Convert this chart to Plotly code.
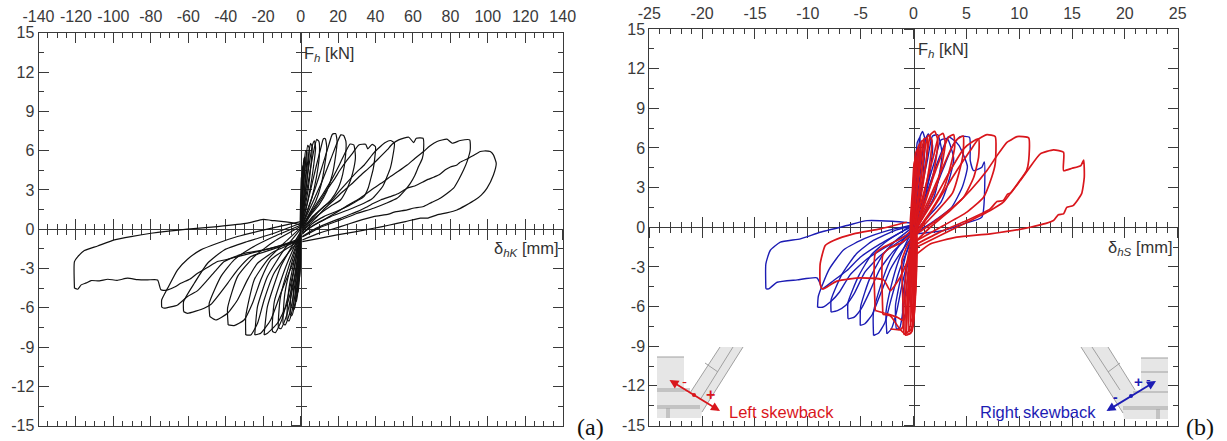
import plotly.graph_objects as go

# ---------- tick labels ----------
KX_TICKS = [-140,-120,-100,-80,-60,-40,-20,0,20,40,60,80,100,120,140]
SX_TICKS = [-25,-20,-15,-10,-5,0,5,10,15,20,25]
Y_TICKS = [-15,-12,-9,-6,-3,0,3,6,9,12,15]

# ---------- panel (a): delta_hK [mm] vs F_h [kN], black curves ----------
K_pos_1 = [(0.9,-0.95),(10,-0.7),(19.5,-0.44),(29,-0.2),(39,0.07),(47,0.3),(56,0.58),(64,0.85),(68,0.85),(72.9,1.09),(78,1.25),(83.5,1.47),(88,1.8),(93.3,2.24),(96.5,2.6),(99.5,3.12),(103,4.14),(104.5,5.03),(103,5.67),(101.3,5.93),(98,5.97),(96,5.93),(92,5.6),(89.7,5.42),(85,5.1),(83.5,4.9),(80,4.75),(77.3,4.53),(74,4.15),(71.1,3.97),(68,3.8),(65.7,3.63),(61,3.3),(56.9,3.13),(52,2.7),(48,2.49),(43,2.25),(39,1.98),(34,1.6),(30.2,1.34),(25,1.05),(21.3,0.83),(17,0.6),(12.4,0.33),(6,-0.1),(0.9,-0.56)]
K_pos_2 = [(0.9,-0.82),(10,-0.3),(21.3,0.2),(30,0.6),(39,0.96),(47,1.15),(50,1.3),(56.9,1.47),(60,1.6),(65.7,1.73),(70,2.05),(74.6,2.36),(78,2.7),(81.7,3.13),(84.5,3.8),(87.1,4.53),(89,5.2),(90.6,6.05),(90.3,6.82),(85.3,6.77),(81,6.56),(78.2,6.87),(72.9,6.69),(69,6.35),(65.7,5.93),(61,5.4),(56.9,4.9),(52,4.4),(48,4.02),(43,3.5),(39,3.13),(34,2.6),(30.2,2.23),(25,1.8),(21.3,1.47),(17,1.1),(12.4,0.71),(6,0.2),(0.9,-0.31)]
K_pos_3 = [(0.9,-0.6),(10,0.1),(21.3,0.71),(30,1.2),(39,1.6),(46,2.0),(51.5,2.36),(55,2.85),(58.6,3.5),(61,4.1),(63,4.78),(65,5.4),(65.7,6.05),(65.4,6.94),(61.8,6.94),(60.4,6.61),(57.8,7.02),(52.4,6.82),(49,6.5),(46.2,6.05),(41,5.3),(37.3,4.78),(32,4.1),(26.7,3.38),(22,2.8),(17.8,2.23),(13,1.6),(8.9,0.96),(0.9,-0.18)]
K_pos_4 = [(0.9,-0.3),(8,0.4),(16,0.96),(25,1.45),(33.8,1.98),(38,2.3),(40.9,2.74),(44,3.3),(46.2,4.02),(48,4.7),(48.9,5.29),(50.1,6.56),(48,6.77),(45,6.6),(43.5,6.43),(41,6.1),(39,5.8),(34,4.9),(30.2,4.4),(25,3.6),(21.3,3.0),(16,2.1),(12.4,1.73),(6,0.8),(0.9,0.07)]
K_pos_5 = [(0.9,-0.4),(6,0.4),(12.4,0.96),(19,1.35),(24.9,1.73),(30,2.15),(33.8,2.49),(36,3.1),(37.3,3.76),(38.8,4.6),(39.5,5.29),(40,6.3),(38.2,6.48),(35.9,6.13),(34.7,6.48),(31.1,6.43),(28,5.85),(24.9,5.29),(21,4.5),(17.8,3.76),(14,3.0),(10.7,2.23),(6,1.3),(0.9,0.2)]
K_pos_6 = [(0.9,-0.2),(5,0.55),(10.7,1.22),(16,1.75),(21.3,2.23),(24.5,3.0),(26.7,3.76),(28.5,4.7),(29.3,5.54),(28.4,6.43),(26.5,6.5),(24,5.9),(21,5.0),(17,3.9),(12,2.7),(6,1.4),(0.9,0.25)]
K_pos_7 = [(0.9,-0.1),(6,0.9),(11,1.55),(16,2.2),(20,3.1),(22.5,4.2),(24,5.6),(24.2,6.7),(23,7.15),(21.5,7.2),(19.5,6.6),(16,5.3),(11,3.5),(6,1.9),(0.9,0.3)]
K_pos_8 = [(0.9,0.0),(5,1.0),(10,1.9),(14,2.9),(17,4.2),(18.6,5.5),(19.5,6.7),(18.7,7.3),(17,7.25),(15,6.4),(12,5.0),(8,3.2),(4,1.6),(0.9,0.35)]
K_pos_9 = [(0.9,0.1),(4,1.0),(8,2.1),(11,3.4),(13,5.0),(14,6.2),(13.2,6.9),(12.2,6.9),(11,6.3),(8.5,4.9),(5,2.8),(0.9,0.5)]
K_pos_10 = [(0.7,0.2),(3,1.1),(6,2.4),(8.5,4.0),(10,5.6),(9.8,6.7),(8.6,6.85),(7.5,6.3),(5,4.4),(2.5,2.2),(0.7,0.6)]
K_pos_11 = [(0.5,0.3),(2.5,1.3),(5,3.0),(7,4.9),(8,6.2),(7.4,6.75),(6.3,6.4),(4.2,4.6),(2,2.4),(0.5,0.7)]
K_pos_12 = [(0.4,0.3),(2,1.4),(4,3.0),(5.6,5.0),(6.2,6.3),(5.3,6.55),(4,5.4),(2.2,3.2),(0.4,0.8)]
K_pos_13 = [(0.3,0.2),(1.5,1.4),(3,3.2),(4.3,5.2),(4.6,6.2),(3.8,6.4),(2.6,5.0),(1.2,2.8),(0.3,0.7)]
K_pos_14 = [(0.2,0.1),(1,1.3),(2.2,3.3),(3.2,5.0),(3.4,5.9),(2.7,6.0),(1.8,4.6),(0.8,2.6),(0.2,0.6)]
K_pos_15 = [(0.1,0.0),(0.7,1.4),(1.5,3.2),(2.3,4.8),(2.4,5.5),(1.8,5.4),(1.1,4.0),(0.5,2.2),(0.1,0.5)]
K_pos_16 = [(0.0,-0.2),(0.4,1.4),(0.9,3.0),(1.4,4.4),(1.5,4.9),(1.0,4.7),(0.5,3.2),(0.0,0.4)]
K_pos_17 = [(-0.3,-0.5),(0.1,1.2),(0.4,2.6),(0.8,3.8),(0.9,4.3),(0.4,3.9),(0.0,2.2),(-0.3,0.0)]

K_neg_1 = [(-120.8,-4.5),(-120.8,-2.47),(-119,-2.09),(-115.5,-1.63),(-108.4,-1.28),(-99.5,-0.82),(-90.6,-0.56),(-79.9,-0.31),(-60.4,0.0),(-44.4,0.2),(-28.4,0.46),(-20,0.75),(-15.9,0.68),(-5,0.5),(0,0.3)]
K_neg_1b = [(-120.8,-4.5),(-119,-4.58),(-117.2,-4.25),(-114.5,-4.1),(-111.9,-3.92),(-107.5,-3.95),(-103,-3.82),(-98,-3.9),(-92.4,-3.74),(-87,-3.85),(-81.7,-3.87),(-76.4,-3.87),(-74.6,-4.63),(-71,-4.63),(-67,-4.4),(-64,-4.13),(-59,-3.8),(-55,-3.36),(-50,-2.95),(-44.4,-2.47),(-39,-2.3),(-33.7,-2.09),(-23,-1.71),(-12.4,-1.33),(0,-0.69)]
K_neg_2 = [(-74.2,-5.96),(-74.2,-5.4),(-71,-4.5),(-65.7,-3.1),(-60.4,-2.29),(-53.3,-1.58),(-44.4,-1.07),(-33.7,-0.56),(-19.5,-0.05),(0,0.58)]
K_neg_2b = [(-74.2,-5.96),(-72.8,-6.03),(-65.7,-5.78),(-60.4,-5.14),(-55,-4.69),(-49.7,-3.87),(-45,-3.1),(-40.8,-2.47),(-30.2,-1.84),(-19.5,-1.58),(0,-0.82)]
K_neg_3 = [(-62.5,-6.29),(-62.5,-5.52),(-56.8,-4.13),(-49.7,-2.6),(-40.8,-1.58),(-28.4,-0.94),(-14.2,-0.31),(0,0.45)]
K_neg_3b = [(-62.5,-6.29),(-60.4,-6.42),(-51.5,-6.03),(-48,-5.75),(-44.4,-5.14),(-39,-4.13),(-33.7,-3.1),(-26.6,-2.09),(-16,-1.58),(0,-0.82)]
K_neg_4 = [(-48.5,-6.67),(-48.8,-5.65),(-42.6,-3.62),(-35.5,-2.34),(-26.6,-1.45),(-14.2,-0.56),(0,0.3)]
K_neg_4b = [(-48.5,-6.67),(-45.3,-6.93),(-39,-6.42),(-33.7,-5.4),(-28.4,-3.87),(-23,-2.6),(-14.2,-1.71),(0,-0.82)]
K_neg_5 = [(-38.7,-7.31),(-39,-6.03),(-33.7,-3.62),(-24.8,-2.09),(-14.2,-0.94),(0,0.2)]
K_neg_5b = [(-38.7,-7.31),(-35.5,-7.36),(-30.2,-6.93),(-25.7,-5.65),(-21.3,-3.87),(-16,-2.34),(-7.1,-1.45),(0,-0.82)]
K_neg_6 = [(-29.3,-8.07),(-29.3,-6.67),(-24.8,-3.87),(-17.7,-2.34),(-8.9,-1.07),(0,0.1)]
K_neg_6b = [(-29.3,-8.07),(-26.6,-8.07),(-23,-7.18),(-19.5,-5.4),(-14.2,-3.36),(-5.3,-1.58),(0,-0.82)]
K_neg_7 = [(-24.5,-8.07),(-23,-5.9),(-17.7,-3.62),(-8.9,-1.58),(0,0.0)]
K_neg_7b = [(-24.5,-8.07),(-21.3,-7.94),(-16,-6.93),(-10.6,-4.89),(-3.5,-2.34),(0,-0.82)]
K_neg_8 = [(-19.5,-8.07),(-17.7,-5.9),(-10.6,-2.85),(0,-0.2)]
K_neg_8b = [(-19.5,-8.07),(-17.7,-7.94),(-12.4,-7.18),(-7.1,-5.65),(-2.6,-3.36),(0,-0.82)]
K_neg_9 = [(-15,-7.8),(-14,-5.5),(-8,-2.9),(0,-0.3),(-5,-4.0),(-10,-6.9),(-13.5,-7.9),(-15,-7.8)]
K_neg_10 = [(-11.8,-7.5),(-10.8,-5.2),(-6,-2.7),(0,-0.4),(-3.5,-3.9),(-7.5,-6.6),(-10.5,-7.6),(-11.8,-7.5)]
K_neg_11 = [(-9.3,-7.2),(-8.4,-4.9),(-4.6,-2.5),(0,-0.4),(-2.6,-3.8),(-5.6,-6.3),(-8.2,-7.3),(-9.3,-7.2)]
K_neg_12 = [(-7.2,-6.9),(-6.4,-4.7),(-3.4,-2.4),(0,-0.4),(-1.9,-3.8),(-4.2,-6.0),(-6.2,-7.0),(-7.2,-6.9)]
K_neg_13 = [(-5.5,-6.5),(-4.9,-4.4),(-2.5,-2.3),(0,-0.4),(-1.4,-3.6),(-3.1,-5.7),(-4.7,-6.6),(-5.5,-6.5)]
K_neg_14 = [(-4.0,-6.0),(-3.5,-4.1),(-1.7,-2.2),(0,-0.4),(-1.0,-3.4),(-2.2,-5.2),(-3.4,-6.1),(-4.0,-6.0)]
K_neg_15 = [(-2.8,-5.5),(-2.4,-3.8),(-1.1,-2.0),(0,-0.4),(-0.6,-3.2),(-1.5,-4.8),(-2.3,-5.5),(-2.8,-5.5)]
K_neg_16 = [(-1.8,-4.8),(-1.5,-3.4),(-0.6,-1.8),(0,-0.4),(-0.3,-2.9),(-0.9,-4.2),(-1.4,-4.8),(-1.8,-4.8)]
K_neg_17 = [(-1.0,-4.0),(-0.8,-2.8),(-0.2,-1.5),(0.1,-0.4),(0.0,-2.4),(-0.4,-3.5),(-1.0,-4.0)]

# ---------- panel (b): delta_hS [mm] vs F_h [kN] ----------
B_neg_1 = [(-13.97,-4.66),(-13.97,-2.77),(-13.56,-1.76),(-12.6,-1.13),(-10.7,-0.88),(-8.83,-0.38),(-6.3,0.13),(-4.4,0.5),(-2.0,0.45),(0,0.3)]
B_neg_1b = [(-13.97,-4.66),(-13.7,-4.66),(-12.9,-4.16),(-11,-3.98),(-9.14,-3.83),(-8.83,-4.28),(-8.67,-4.66),(-7.56,-4.03),(-6.3,-3.27),(-5.04,-2.27),(-3.15,-1.26),(-0.94,-0.25),(0,0.25)]
B_neg_2 = [(-9.08,-6.05),(-9.0,-5.2),(-8.0,-3.2),(-6.6,-1.7),(-4.6,-0.85),(-2.2,-0.2),(0,0.2)]
B_neg_2b = [(-9.08,-6.05),(-8.6,-6.05),(-7.8,-5.6),(-7.0,-4.9),(-6.0,-3.6),(-4.4,-2.4),(-2.0,-1.2),(0,-0.3)]
B_neg_3 = [(-7.8,-6.42),(-7.8,-5.5),(-6.8,-3.6),(-5.4,-2.0),(-3.8,-1.0),(-1.6,-0.2),(0,0.15)]
B_neg_3b = [(-7.8,-6.42),(-7.2,-6.3),(-6.4,-5.9),(-5.6,-5.0),(-4.6,-3.4),(-3.2,-2.2),(-1.4,-1.1),(0,-0.4)]
B_neg_4 = [(-6.2,-6.93),(-6.2,-5.7),(-5.2,-3.7),(-4.0,-2.1),(-2.6,-1.1),(-1.0,-0.3),(0,0.1)]
B_neg_4b = [(-6.2,-6.93),(-5.6,-6.8),(-4.9,-6.1),(-4.1,-4.8),(-3.2,-3.2),(-2.0,-1.9),(-0.8,-1.0),(0,-0.5)]
B_neg_5 = [(-5.04,-7.43),(-5.0,-6.0),(-4.2,-4.0),(-3.0,-2.2),(-1.8,-1.1),(0,0.05)]
B_neg_5b = [(-5.04,-7.43),(-4.6,-7.3),(-3.9,-6.6),(-3.1,-5.0),(-2.2,-3.2),(-1.2,-1.9),(0,-0.6)]
B_neg_6 = [(-3.78,-8.19),(-3.8,-6.5),(-3.1,-4.4),(-2.2,-2.5),(-1.2,-1.2),(0,0.0)]
B_neg_6b = [(-3.78,-8.19),(-3.3,-8.0),(-2.7,-7.2),(-2.1,-5.4),(-1.3,-3.2),(-0.5,-1.6),(0,-0.7)]
B_neg_7 = [(-2.52,-8.06),(-2.6,-6.4),(-2.1,-4.4),(-1.4,-2.5),(-0.7,-1.2),(0,-0.1)]
B_neg_7b = [(-2.52,-8.06),(-2.1,-7.7),(-1.6,-6.4),(-1.1,-4.4),(-0.5,-2.4),(0,-0.8)]
B_neg_8 = [(-1.6,-7.7),(-1.7,-5.9),(-1.2,-3.8),(-0.7,-2.0),(0,-0.3),(-0.4,-3.0),(-0.9,-5.8),(-1.3,-7.6),(-1.6,-7.7)]
B_neg_9 = [(-1.0,-7.0),(-1.0,-5.2),(-0.6,-3.0),(-0.2,-1.4),(0.1,-0.4),(-0.1,-3.2),(-0.5,-5.9),(-1.0,-7.0)]

B_pos_1 = [(0.3,-0.5),(2.85,-0.25),(4.74,0.26),(6.47,0.76),(6.7,4.95),(6.47,4.54),(5.68,4.29),(5.37,5.04),(5.3,6.81),(4.42,6.86),(3.8,6.3),(2.8,4.4),(1.8,2.4),(0.3,-0.1)]
B_pos_2 = [(0.3,-0.4),(2.0,0.5),(3.6,1.5),(4.6,3.0),(5.1,4.6),(4.3,6.2),(3.8,6.6),(3.3,6.85),(2.7,5.8),(1.6,3.4),(0.3,0.2)]
B_pos_3 = [(0.2,-0.3),(1.4,0.8),(2.6,1.9),(3.3,3.4),(3.8,5.2),(3.2,6.7),(2.6,6.6),(2.0,5.0),(1.0,2.4),(0.2,0.2)]
B_pos_4 = [(0.2,-0.2),(1.0,0.9),(1.9,2.2),(2.4,3.8),(2.7,5.6),(2.3,7.0),(1.8,6.9),(1.3,5.0),(0.6,2.3),(0.2,0.2)]
B_pos_5 = [(0.1,-0.2),(0.7,1.1),(1.2,2.6),(1.6,4.4),(1.8,6.2),(1.4,7.05),(1.0,6.4),(0.6,3.8),(0.1,0.4)]
B_pos_6 = [(0.0,-0.2),(0.4,1.2),(0.8,3.0),(1.0,5.0),(1.1,6.6),(0.85,7.25),(0.6,6.8),(0.3,3.6),(0.0,0.4)]
B_pos_7 = [(0.0,-0.1),(0.2,1.4),(0.4,3.4),(0.6,5.4),(0.6,6.8),(0.35,6.4),(0.15,3.2),(0.0,0.5)]

R_neg_1 = [(-8.67,-4.66),(-8.83,-4.28),(-8.83,-2.77),(-8.35,-1.38),(-7.56,-1.0),(-5.67,-0.5),(-3.15,-0.12),(-0.63,0.38)]
R_neg_1b = [(-8.67,-4.66),(-8.5,-4.66),(-7.25,-4.08),(-6.0,-3.9),(-5,-3.83),(-2.83,-3.98),(-2.2,-4.79),(-1.26,-3.78),(-0.3,-2.0),(0,-0.8)]
R_neg_2 = [(-3.62,-6.3),(-3.62,-2.0),(-2.83,-1.5),(-0.94,-0.75),(0.1,0.0)]
R_neg_2b = [(-3.62,-6.3),(-2.52,-6.55),(-1.57,-6.8),(-0.94,-7.05),(-0.3,-4.5),(0,-0.8)]
R_neg_3 = [(-2.9,-6.6),(-2.9,-2.1),(-2.3,-1.6),(-1.0,-1.1),(0.1,-0.3)]
R_neg_3b = [(-2.9,-6.6),(-2.2,-6.7),(-1.3,-7.7),(-0.8,-8.06),(-0.5,-5.0),(0,-1.0)]
R_neg_4 = [(-2.2,-7.7),(-1.26,-7.75),(-1.0,-7.5),(-1.1,-3.5),(-1.1,-2.5),(-0.6,-1.4),(0.1,-0.5)]
R_neg_5 = [(-0.9,-8.1),(-0.85,-5.0),(-0.6,-2.6),(-0.2,-1.0),(0.1,-0.1),(-0.1,-4.2),(-0.4,-7.8),(-0.9,-8.1)]
R_neg_6 = [(-0.75,-8.15),(-0.7,-5.2),(-0.45,-2.8),(-0.1,-1.0),(0.1,-0.2),(0.0,-4.4),(-0.25,-8.0),(-0.75,-8.15)]
R_neg_7 = [(-0.6,-8.1),(-0.55,-5.0),(-0.3,-2.5),(0.0,-0.9),(0.15,-0.4),(0.1,-4.4),(-0.15,-7.9),(-0.6,-8.1)]
R_neg_8 = [(-0.45,-7.9),(-0.4,-4.8),(-0.2,-2.2),(0.05,-0.6),(0.2,-0.4),(0.2,-4.0),(-0.05,-7.5),(-0.45,-7.9)]
R_neg_9 = [(-0.3,-7.2),(-0.25,-4.3),(-0.1,-2.0),(0.1,-0.5),(0.25,-0.4),(0.25,-3.6),(0.05,-6.6),(-0.3,-7.2)]
R_neg_10 = [(-0.15,-6.2),(-0.1,-3.8),(0.0,-1.8),(0.2,-0.4),(0.3,-0.3),(0.3,-3.0),(0.1,-5.6),(-0.15,-6.2)]

R_pos_1 = [(0.32,-2.01),(1.58,-1.26),(4.1,-0.75),(7.26,-0.5),(11.05,0),(13.25,0.51),(13.7,0.95),(14.2,1.01),(14.5,1.5),(15.1,1.64),(15.9,2.52),(16.16,3.78),(16.1,5.09),(15.84,4.67),(15,4.46),(14.2,4.29),(14.2,5.67),(13.25,5.85),(12,5.55),(10.9,4.41),(10.1,3.53),(9.2,2.6),(8.9,2.5),(8.5,2.02),(7.9,1.95),(7.26,1.39),(5.05,0.51),(2.5,-0.37),(0.32,-1.26)]
R_pos_2 = [(0.32,-1.5),(2.85,-0.5),(5.37,0.5),(7.26,1.27),(8.5,1.9),(9.94,3.4),(10.7,4.29),(10.9,5.04),(10.9,6.76),(9.8,6.86),(9.2,6.6),(8.84,6.43),(7.9,5.42),(6.95,4.29),(5.37,2.78),(3.48,1.27),(1.58,0),(0.32,-1)]
R_pos_3 = [(0.32,-1.0),(2.85,0.13),(5.05,1.14),(6.63,2.27),(7.4,3.78),(7.73,4.79),(7.73,6.86),(6.95,7.01),(6.16,6.68),(5.37,5.8),(4.1,4.29),(2.53,2.27),(0.32,-0.5)]
R_pos_4 = [(0.32,-0.5),(2.53,0.76),(4.74,2.27),(5.7,3.78),(6.16,5.3),(6.16,6.68),(5.5,6.43),(4.74,5.93),(3.48,4.29),(1.9,2.02),(0.32,0)]
R_pos_5 = [(0.3,-0.4),(2.1,1.1),(3.7,2.6),(4.3,4.1),(4.7,5.6),(4.7,6.9),(4.2,6.7),(3.6,6.0),(2.6,4.2),(1.4,2.0),(0.3,0.1)]
R_pos_6 = [(0.3,-0.3),(1.7,1.3),(2.9,3.0),(3.5,4.6),(3.9,6.1),(3.8,7.0),(3.3,6.8),(2.7,5.6),(1.7,3.4),(0.3,0.2)]
R_pos_7 = [(0.2,-0.3),(1.3,1.5),(2.2,3.2),(2.7,4.8),(3.0,6.4),(2.8,7.1),(2.4,6.9),(1.9,5.4),(1.1,3.0),(0.2,0.3)]
R_pos_8 = [(0.2,-0.4),(1.0,1.6),(1.7,3.4),(2.1,5.0),(2.3,6.6),(2.0,7.25),(1.6,7.0),(1.2,5.0),(0.6,2.6),(0.2,0.3)]
R_pos_9 = [(0.1,-0.6),(0.8,1.6),(1.3,3.6),(1.6,5.2),(1.75,6.6),(1.4,6.95),(1.05,5.8),(0.7,3.6),(0.1,0.3)]
R_pos_10 = [(0.0,-0.7),(0.6,1.8),(1.0,3.8),(1.25,5.4),(1.3,6.7),(1.0,6.7),(0.7,5.0),(0.3,2.6),(0.0,0.2)]
R_pos_11 = [(-0.1,-0.8),(0.3,1.6),(0.7,3.8),(0.95,5.4),(1.0,6.6),(0.75,6.5),(0.45,4.4),(0.1,1.6),(-0.1,0.2)]
R_pos_12 = [(-0.2,-0.8),(0.1,1.6),(0.45,3.8),(0.65,5.2),(0.7,6.4),(0.45,6.1),(0.2,4.0),(-0.1,1.2),(-0.2,0.0)]
R_pos_13 = [(-0.25,-0.8),(-0.05,1.6),(0.2,3.6),(0.4,5.0),(0.45,6.0),(0.2,5.6),(0.0,3.4),(-0.2,0.8),(-0.25,-0.2)]
R_pos_14 = [(-0.3,-0.9),(-0.15,1.2),(0.05,3.0),(0.2,4.4),(0.25,5.3),(0.05,4.8),(-0.1,2.8),(-0.3,0.4),(-0.3,-0.4)]

BLACK_LOOPS = [K_pos_1,K_pos_2,K_pos_3,K_pos_4,K_pos_5,K_pos_6,K_pos_7,K_pos_8,K_pos_9,K_pos_10,K_pos_11,K_pos_12,K_pos_13,K_pos_14,K_pos_15,K_pos_16,K_pos_17,
               K_neg_1,K_neg_1b,K_neg_2,K_neg_2b,K_neg_3,K_neg_3b,K_neg_4,K_neg_4b,K_neg_5,K_neg_5b,K_neg_6,K_neg_6b,K_neg_7,K_neg_7b,K_neg_8,K_neg_8b,K_neg_9,K_neg_10,K_neg_11,K_neg_12,K_neg_13,K_neg_14,K_neg_15,K_neg_16,K_neg_17]
BLUE_LOOPS = [B_neg_1,B_neg_1b,B_neg_2,B_neg_2b,B_neg_3,B_neg_3b,B_neg_4,B_neg_4b,B_neg_5,B_neg_5b,B_neg_6,B_neg_6b,B_neg_7,B_neg_7b,B_neg_8,B_neg_9,
              B_pos_1,B_pos_2,B_pos_3,B_pos_4,B_pos_5,B_pos_6,B_pos_7]
RED_LOOPS = [R_neg_1,R_neg_1b,R_neg_2,R_neg_2b,R_neg_3,R_neg_3b,R_neg_4,R_neg_5,R_neg_6,R_neg_7,R_neg_8,R_neg_9,R_neg_10,
             R_pos_1,R_pos_2,R_pos_3,R_pos_4,R_pos_5,R_pos_6,R_pos_7,R_pos_8,R_pos_9,R_pos_10,R_pos_11,R_pos_12,R_pos_13,R_pos_14]

W, H = 1227, 441
AXC = "#3a3a3a"
FONT = "Liberation Sans"
RED = "#d9161c"
BLUE = "#1c1cb4"

def fx(px): return px / W
def fy(py): return 1 - py / H

fig = go.Figure()

def add_loops(loops, color, width, xa, ya):
    for loop in loops:
        fig.add_trace(go.Scatter(x=[p[0] for p in loop], y=[p[1] for p in loop], mode="lines",
                                 line=dict(color=color, width=width, shape="spline", smoothing=0.5), xaxis=xa, yaxis=ya,
                                 showlegend=False, hoverinfo="skip"))

add_loops(BLACK_LOOPS, "#111111", 1.2, "x3", "y3")
add_loops(BLUE_LOOPS, BLUE, 1.4, "x6", "y6")
add_loops(RED_LOOPS, RED, 1.7, "x6", "y6")
# empty companions, so each tick layer exists as an overlay
for xa, ya in (("x", "y"), ("x2", "y2"), ("x4", "y4"), ("x5", "y5")):
    fig.add_trace(go.Scatter(x=[None], y=[None], xaxis=xa, yaxis=ya, showlegend=False, hoverinfo="skip"))

def x_common(rng, major, minor):
    return dict(range=rng, tick0=0, dtick=major, ticklen=10, tickwidth=1, tickcolor=AXC, automargin=False,
                zeroline=False, showgrid=False, linecolor=AXC, linewidth=1, showline=True,
                minor=dict(tick0=0, dtick=minor, ticklen=5, tickwidth=1, tickcolor=AXC, showgrid=False))

def y_common():
    return x_common([-15, 15], 3, 1.5)

def panel(ids, rng, major, minor, xd, yd, xticks):
    xf, xc, xd_id = ids
    ymid = sum(yd) / 2
    xmid = sum(xd) / 2
    def key(prefix, i): return prefix + "axis" + (str(i) if i > 1 else "")
    def ref(prefix, i): return prefix + (str(i) if i > 1 else "")
    xm = x_common(rng, major, minor)
    ym = y_common()
    layout = {}
    font = dict(family=FONT, size=16, color=AXC)
    # frame axes with labels, ticks inside and mirrored
    a = dict(xm); a.update(domain=xd, side="top", anchor=ref("y", xf), ticks="inside", mirror="ticks",
                           showticklabels=True, tickfont=font, tickangle=0, ticklabeloverflow="allow",
                           ticklabelstandoff=3, tickmode="array", tickvals=xticks, ticktext=[str(v) for v in xticks])
    a.pop("dtick"); a.pop("tick0")
    a["minor"] = dict(a["minor"], ticks="inside")
    layout[key("x", xf)] = a
    b = dict(ym); b.update(domain=yd, side="left", anchor=ref("x", xf), ticks="inside", mirror="ticks",
                           showticklabels=True, tickfont=font, tickangle=0, ticklabeloverflow="allow",
                           tickmode="array", tickvals=Y_TICKS, ticktext=[str(v) for v in Y_TICKS])
    b.pop("dtick"); b.pop("tick0")
    b["minor"] = dict(b["minor"], ticks="inside")
    layout[key("y", xf)] = b
    # centre cross: one layer of ticks going out, one going in; data sits on the inner layer
    for i, t in ((xc, "outside"), (xd_id, "inside")):
        c = dict(xm); c.update(overlaying=ref("x", xf), anchor="free", position=ymid, side="bottom", ticks=t,
                               showticklabels=False, layer="below traces")
        c["minor"] = dict(c["minor"], ticks=t)
        layout[key("x", i)] = c
        d = dict(ym); d.update(overlaying=ref("y", xf), anchor="free", position=xmid, side="left", ticks=t,
                               showticklabels=False, layer="below traces")
        d["minor"] = dict(d["minor"], ticks=t)
        layout[key("y", i)] = d
    return layout

layout = {}
layout.update(panel((1, 2, 3), [-140, 140], 20, 5, [fx(38.5), fx(562.7)], [fy(425.7), fy(32.7)], KX_TICKS))
layout.update(panel((4, 5, 6), [-25, 25], 5, 1, [fx(649.3), fx(1177.7)], [fy(425.5), fy(29)], SX_TICKS))

def text(px, py, s, size=15, color="#333333", family=FONT, xanchor="left"):
    return dict(x=fx(px), y=fy(py), xref="paper", yref="paper", text=s, showarrow=False, xanchor=xanchor,
                yanchor="middle", font=dict(family=family, size=size, color=color))

def arrow(x0, y0, x1, y1, color):
    return dict(x=fx(x1), y=fy(y1), ax=x0 - x1, ay=y0 - y1, xref="paper", yref="paper", axref="pixel", ayref="pixel",
                text="", showarrow=True, arrowhead=2, startarrowhead=2, arrowside="end+start", arrowwidth=1.8,
                arrowcolor=color, arrowsize=1, startarrowsize=1, standoff=0, startstandoff=0)

annots = [
    text(302, 54, "F<sub><i>h</i></sub> [kN]", size=16.5),
    text(561, 249, "δ<sub><i>hK</i></sub> [mm]", size=16.5, xanchor="right"),
    text(916, 50, "F<sub><i>h</i></sub> [kN]", size=16.5),
    text(1175, 248, "δ<sub><i>hS</i></sub> [mm]", size=16.5, xanchor="right"),
    text(575, 427, "(a)", size=24, color="#111111", family="Liberation Serif"),
    text(1184, 427, "(b)", size=24, color="#111111", family="Liberation Serif"),
    text(727, 412, "Left skewback", size=16.5, color=RED),
    text(978, 412, "Right skewback", size=16.5, color=BLUE),
    text(684, 381, "-", size=15, color=RED, xanchor="center"),
    text(711, 394, "<b>+</b>", size=16, color=RED, xanchor="center"),
    text(1138, 381, "<b>+</b>", size=15, color=BLUE, xanchor="center"),
    text(1148, 380, "-", size=14, color=BLUE, xanchor="center"),
    text(1115, 397, "<b>-</b>", size=14, color=BLUE, xanchor="center"),
    arrow(668, 379, 720, 411, RED),
    arrow(1105, 412, 1156, 381, BLUE),
]

def poly(points, fill="#e6e6e6"):
    d = "M " + " L ".join(f"{fx(a):.5f},{fy(b):.5f}" for a, b in points) + " Z"
    return dict(type="path", xref="paper", yref="paper", path=d, fillcolor=fill, line=dict(width=0), layer="above")

def seg(x0, y0, x1, y1, color="#a0a0a0"):
    return dict(type="line", xref="paper", yref="paper", x0=fx(x0), y0=fy(y0), x1=fx(x1), y1=fy(y1),
                line=dict(color=color, width=1), layer="above")

def dot(px, py, color):
    return dict(type="circle", xref="paper", yref="paper", x0=fx(px-2), x1=fx(px+2), y0=fy(py+2), y1=fy(py-2),
                fillcolor=color, line=dict(width=0), layer="above")

shapes = [
    poly([(657,357),(684,357),(684,392),(690,393),(720,347),(743,347),(702,412),(701,418),(657,418)]),
    seg(657,357,684,357), seg(657,389,690,389), seg(657,391,690,391), seg(657,406,700,406), seg(657,408,700,408),
    seg(667,408,667,418), seg(669,408,669,418), seg(690,393,720,347), seg(702,412,743,347), seg(700,400,733,347),
    seg(705,363,718,372),
    poly([(1081,347),(1108,347),(1135,390),(1141,390),(1141,358),(1168,358),(1168,419),(1124,419),(1123,413)]),
    seg(1141,358,1168,358), seg(1141,372,1168,372), seg(1133,392,1168,392), seg(1123,407,1168,407), seg(1123,409,1168,409),
    seg(1157,409,1157,419), seg(1159,409,1159,419), seg(1081,347,1123,413), seg(1108,347,1135,390), seg(1092,347,1120,390),
    seg(1108,372,1120,363),
    dot(694,395,RED), dot(1131,396,BLUE),
]

fig.update_layout(template="none", width=W, height=H, margin=dict(l=0, r=0, t=0, b=0, autoexpand=False), plot_bgcolor="white", paper_bgcolor="white",
                  showlegend=False, annotations=annots, shapes=shapes, **layout)
fig.write_html("out.html", config=dict(displayModeBar=False),
               post_script="document.body.style.margin='0';document.documentElement.style.overflow='hidden';")
